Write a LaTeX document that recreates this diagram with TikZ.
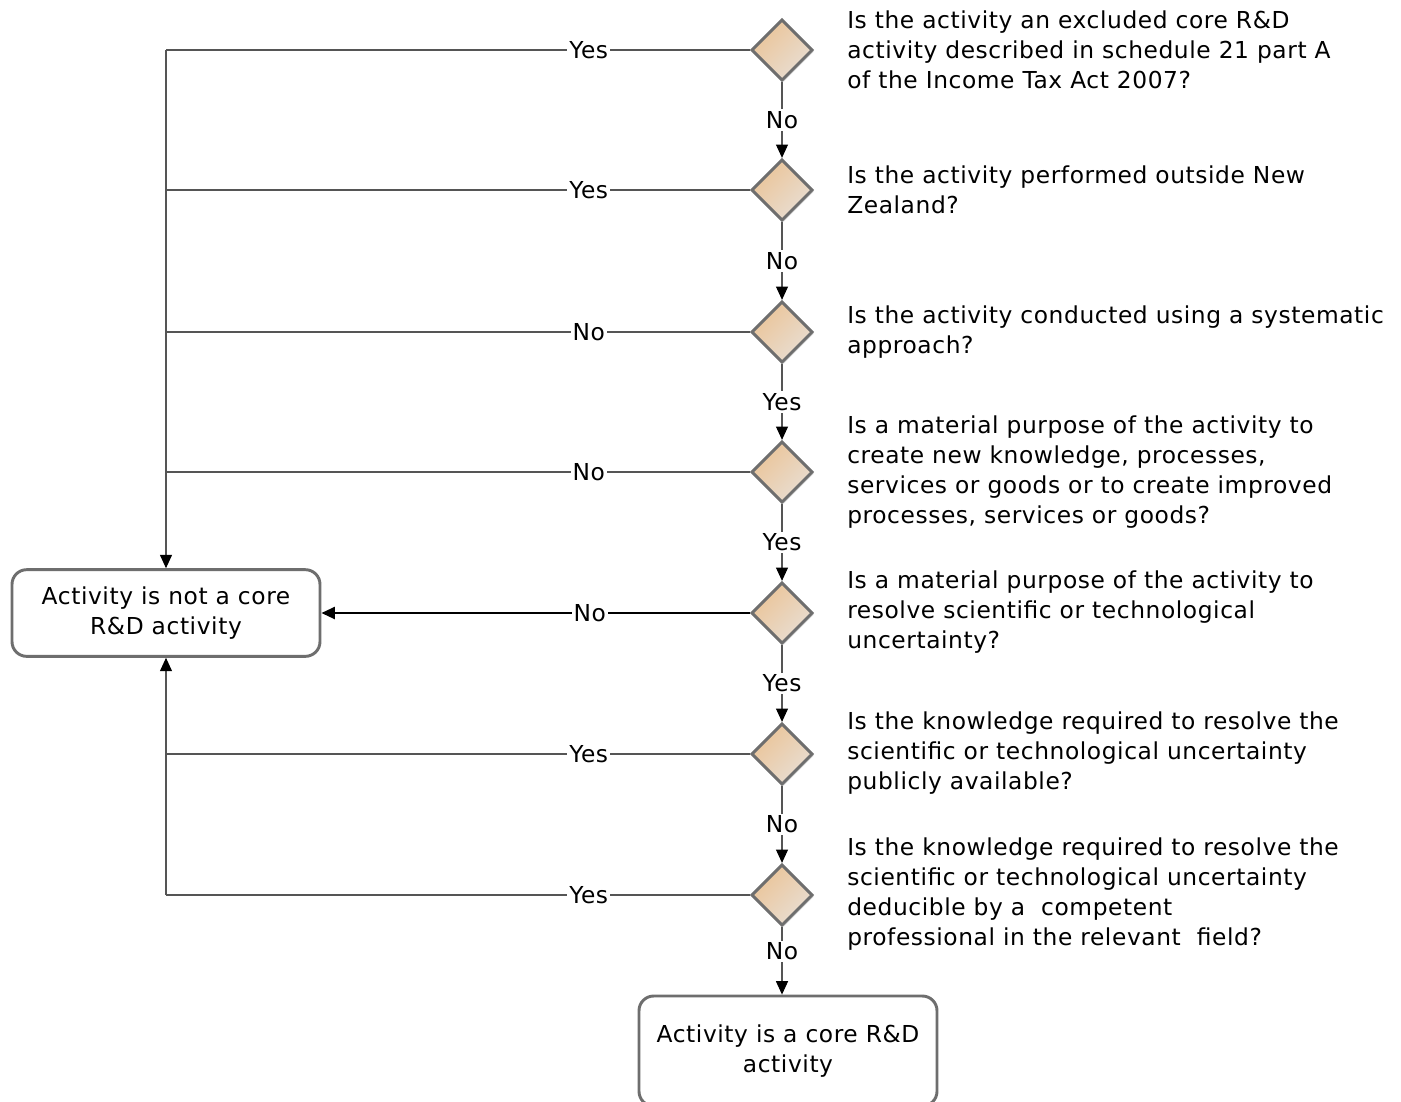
\documentclass[tikz,border=0pt]{standalone}
\usepackage{fontspec}
\setmainfont{DejaVu Sans}[LetterSpace=2.5]
\usetikzlibrary{shapes.geometric,arrows.meta,shadows}

\definecolor{boxgray}{RGB}{110,110,110}
\definecolor{linegray}{RGB}{85,85,85}
\definecolor{tanfill}{RGB}{234,196,152}
\definecolor{tanlight}{RGB}{233,222,211}

\begin{document}
\begin{tikzpicture}[x=0.75pt,y=0.75pt,yscale=-1,xscale=1,
  font=\fontsize{17.5}{22.5}\selectfont,
  decision/.style={diamond, draw=boxgray, line width=2.2pt, minimum width=46pt, minimum height=46pt, inner sep=0pt,
    top color=tanfill, bottom color=tanlight, shading angle=45,
    drop shadow={shadow xshift=1.2pt, shadow yshift=-1.2pt, opacity=0.25, fill=black!60}},
  outcome/.style={draw=boxgray, line width=2.2pt, rounded corners=11pt, fill=white, align=center, inner sep=0pt},
  question/.style={anchor=west, align=left, inner sep=0pt},
  conn/.style={draw=linegray, line width=0.8pt},
  strong/.style={draw=black, line width=1.5pt},
  arr/.style={-{Triangle[length=10pt,width=9pt,color=black]}},
  lbl/.style={fill=white, inner sep=1.5pt}]
\useasboundingbox (0,0) rectangle (1401,1101);

%Shape: Diamond 
\node[decision] (d1) at (782,50) {};
\node[decision] (d2) at (782,190) {};
\node[decision] (d3) at (782,332) {};
\node[decision] (d4) at (782,472) {};
\node[decision] (d5) at (782,613) {};
\node[decision] (d6) at (782,754) {};
\node[decision] (d7) at (782,895) {};

%Shape: Rounded Rect 
\node[outcome, minimum width=231pt, minimum height=65pt] (notcore) at (166,613) {Activity is not a core\\R\&D activity};
\node[outcome, minimum width=223.5pt, minimum height=82.5pt] (core) at (788,1051) {Activity is a core R\&D\\activity};

% Text Node
\node[question] (q1) at (847,50) {Is the activity an excluded core R\&D\\activity described in schedule 21 part A\\of the Income Tax Act 2007?};
% Text Node
\node[question] (q2) at (847,190) {Is the activity performed outside New\\Zealand?};
% Text Node
\node[question] (q3) at (847,332) {Is the activity conducted using a systematic\\approach?};
% Text Node
\node[question] (q4) at (847,472) {Is a material purpose of the activity to\\create new knowledge, processes,\\services or goods or to create improved\\processes, services or goods?};
% Text Node
\node[question] (q5) at (847,612) {Is a material purpose of the activity to\\resolve scientific or technological\\uncertainty?};
% Text Node
\node[question] (q6) at (847,753) {Is the knowledge required to resolve the\\scientific or technological uncertainty\\publicly available?};
% Text Node
\node[question] (q7) at (847,894) {Is the knowledge required to resolve the\\scientific or technological uncertainty\\deducible by a\ \ competent\\professional in the relevant\ \ field?};

%Straight Lines: down the column
\draw[conn,arr] (d1) -- node[lbl]{No} (d2);
\draw[conn,arr] (d2) -- node[lbl]{No} (d3);
\draw[conn,arr] (d3) -- node[lbl]{Yes} (d4);
\draw[conn,arr] (d4) -- node[lbl]{Yes} (d5);
\draw[conn,arr] (d5) -- node[lbl]{Yes} (d6);
\draw[conn,arr] (d6) -- node[lbl]{No} (d7);
\draw[conn,arr] (d7.south) -- node[lbl,pos=0.36]{No} (d7.south |- core.north);

%Straight Lines: back to the left
\draw[conn] (d1.west) -- node[lbl,pos=0.276]{Yes} (d1.west -| notcore.north);
\draw[conn] (d2.west) -- node[lbl,pos=0.276]{Yes} (d2.west -| notcore.north);
\draw[conn] (d3.west) -- node[lbl,pos=0.276]{No} (d3.west -| notcore.north);
\draw[conn] (d4.west) -- node[lbl,pos=0.276]{No} (d4.west -| notcore.north);
\draw[conn,arr] (d1.west -| notcore.north) -- (notcore.north);
\draw[strong,arr] (d5.west) -- node[lbl,pos=0.374]{No} (notcore.east);
\draw[conn] (d6.west) -- node[lbl,pos=0.276]{Yes} (d6.west -| notcore.south);
\draw[conn] (d7.west) -- node[lbl,pos=0.276]{Yes} (d7.west -| notcore.south);
\draw[conn,arr] (d7.west -| notcore.south) -- (notcore.south);

\end{tikzpicture}
\end{document}
